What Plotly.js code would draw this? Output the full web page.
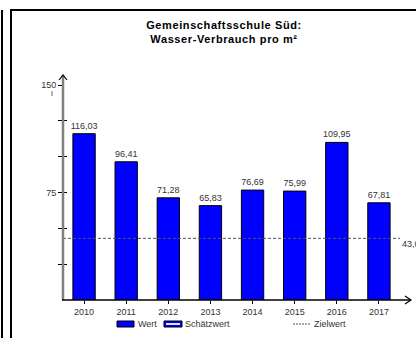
<!DOCTYPE html>
<html>
<head>
<meta charset="utf-8">
<script src="https://cdn.plot.ly/plotly-3.0.1.min.js"></script>
<style>
html,body{margin:0;padding:0;background:#fff;}
#wrap{position:relative;width:416px;height:338px;overflow:hidden;}
#chart{position:absolute;left:0;top:0;width:416px;height:338px;}
.ln{position:absolute;background:#000;pointer-events:none;}
#chart .gtitle{letter-spacing:0.6px;}
</style>
</head>
<body>
<div id="wrap">
<div id="chart"></div>
<div class="ln" style="left:1px;top:10px;width:1.5px;height:330px;"></div>
<div class="ln" style="left:10px;top:9px;width:1.5px;height:330px;"></div>
<div class="ln" style="left:10px;top:9px;width:410px;height:1.5px;"></div>
</div>
<script>
// ---- data ----
const years = ['2010','2011','2012','2013','2014','2015','2016','2017'];
const values = [116.03, 96.41, 71.28, 65.83, 76.69, 75.99, 109.95, 67.81];
const target = 43.0;
const yTickVals = [25, 50, 75, 100, 125, 150];
const yTickText = ['', '', '75', '', '', '150'];
const titleText = 'Gemeinschaftsschule Süd:<br>Wasser-Verbrauch pro m²';
const unitText = 'l';
const legendNames = ['Wert', 'Schätzwert', 'Zielwert'];

const fmt = v => v.toFixed(2).replace('.', ',');
const FONT = 'Liberation Sans, Arial, sans-serif';
const TXT = '#333333';

// pixel-to-paper helpers (plot area: x 63..400, y 85..300)
const L = 63, R = 16, T = 85, B = 38, W = 416, H = 338;
const PW = W - L - R, PH = H - T - B;
const px = x => (x - L) / PW;
const py = y => (H - B - y) / PH;

const bars = {
  type: 'bar', x: years, y: values,
  text: values.map(fmt), textposition: 'outside', cliponaxis: false, constraintext: 'none',
  textfont: {family: FONT, size: 9, color: TXT},
  marker: {color: '#0000FF', line: {color: '#000000', width: 1}},
  width: 0.53, hoverinfo: 'skip', showlegend: false
};
const dummy = {type: 'scatter', x: years, y: values, yaxis: 'y2', mode: 'none', showlegend: false, hoverinfo: 'skip'};

const shapes = [
  // target line
  {type: 'line', xref: 'paper', yref: 'y', x0: 0, x1: 1, y0: target, y1: target,
   line: {color: '#555555', width: 1, dash: '3px,2px'}},
  // y axis line (gray) with arrow
  {type: 'line', xref: 'paper', yref: 'paper', x0: 0, x1: 0, y0: 0, y1: py(75.5),
   line: {color: '#7f7f7f', width: 2.5}},
  {type: 'path', xref: 'paper', yref: 'paper',
   path: `M ${px(59)} ${py(80)} L ${px(63)} ${py(75)} L ${px(67)} ${py(80)}`,
   line: {color: '#000000', width: 1.2}},
  // x axis line (black) with arrow
  {type: 'line', xref: 'paper', yref: 'paper', x0: px(62), x1: px(411), y0: 0, y1: 0,
   line: {color: '#000000', width: 1.5}},
  {type: 'path', xref: 'paper', yref: 'paper',
   path: `M ${px(405)} ${py(296)} L ${px(411)} ${py(300)} L ${px(405)} ${py(304)}`,
   line: {color: '#000000', width: 1.2}},
  // legend icons
  {type: 'rect', xref: 'paper', yref: 'paper', x0: px(117), x1: px(134), y0: py(321), y1: py(327),
   fillcolor: '#0000FF', line: {color: '#000000', width: 1}},
  {type: 'rect', xref: 'paper', yref: 'paper', x0: px(164), x1: px(182), y0: py(321), y1: py(327),
   fillcolor: '#0000FF', line: {color: '#000000', width: 1}},
  {type: 'rect', xref: 'paper', yref: 'paper', x0: px(166), x1: px(180), y0: py(323), y1: py(325),
   fillcolor: '#E0E0FF', line: {width: 0}},
  {type: 'line', xref: 'paper', yref: 'paper', x0: px(293), x1: px(311), y0: py(324), y1: py(324),
   line: {color: '#555555', width: 1, dash: '2px,1px'}}
];

const annotations = [
  {xref: 'paper', yref: 'paper', x: px(52), y: py(93), yanchor: 'middle', xanchor: 'center', text: unitText, showarrow: false,
   font: {family: FONT, size: 8, color: TXT}},
  {xref: 'paper', yref: 'y', x: px(400), y: target, yshift: -6, xanchor: 'left', yanchor: 'middle', text: fmt(target),
   showarrow: false, font: {family: FONT, size: 9, color: TXT}},
  {xref: 'paper', yref: 'paper', x: px(136), y: py(324), xanchor: 'left', yanchor: 'middle', text: legendNames[0],
   showarrow: false, font: {family: FONT, size: 9, color: TXT}},
  {xref: 'paper', yref: 'paper', x: px(183), y: py(324), xanchor: 'left', yanchor: 'middle', text: legendNames[1],
   showarrow: false, font: {family: FONT, size: 9, color: TXT}},
  {xref: 'paper', yref: 'paper', x: px(312), y: py(324), xanchor: 'left', yanchor: 'middle', text: legendNames[2],
   showarrow: false, font: {family: FONT, size: 9, color: TXT}}
];

const layout = {
  width: W, height: H,
  margin: {l: L, r: R, t: T, b: B, pad: 0},
  paper_bgcolor: 'rgba(0,0,0,0)', plot_bgcolor: 'rgba(0,0,0,0)',
  font: {family: FONT, size: 9, color: TXT},
  showlegend: false,
  title: {text: titleText, xref: 'container', x: 224 / W, y: 1 - 29 / H, yanchor: 'middle',
          font: {family: FONT, size: 11, weight: 'bold', color: '#000000'}},
  xaxis: {type: 'category', range: [-0.5, 7.5], showline: false, showgrid: false, zeroline: false,
          ticks: 'outside', ticklen: 3, tickcolor: '#000000', tickwidth: 1,
          tickfont: {family: FONT, size: 9, color: TXT}, fixedrange: true},
  yaxis: {range: [0, 150], showline: false, showgrid: false, zeroline: false,
          tickmode: 'array', tickvals: yTickVals, ticktext: yTickText,
          ticks: 'outside', ticklen: 4, tickcolor: '#000000', tickwidth: 1,
          tickfont: {family: FONT, size: 9, color: TXT}, fixedrange: true},
  yaxis2: {overlaying: 'y', range: [0, 150], showline: false, showgrid: false, zeroline: false,
           tickmode: 'array', tickvals: yTickVals, ticks: 'inside', ticklen: 4,
           tickcolor: '#000000', tickwidth: 1, showticklabels: false, fixedrange: true},
  bargap: 0.47,
  shapes: shapes, annotations: annotations
};

Plotly.newPlot('chart', [bars, dummy], layout, {displayModeBar: false, staticPlot: true});
</script>
</body>
</html>
